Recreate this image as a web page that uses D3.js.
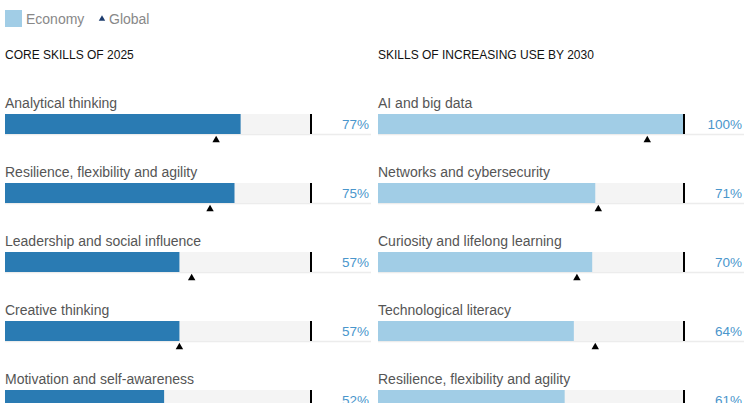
<!DOCTYPE html>
<html>
<head>
<meta charset="utf-8">
<script src="https://cdn.jsdelivr.net/npm/d3@7/dist/d3.min.js"></script>
<style>
  html, body { margin: 0; padding: 0; background: #fff; }
  svg { display: block; font-family: "Liberation Sans", Arial, Helvetica, sans-serif; }
</style>
</head>
<body>
<svg id="chart" width="747" height="403"></svg>
<script>
// Panel titles
const panelTitles = ["CORE SKILLS OF 2025", "SKILLS OF INCREASING USE BY 2030"];

// Core skills of 2025
const coreSkills = [
  "Analytical thinking",
  "Resilience, flexibility and agility",
  "Leadership and social influence",
  "Creative thinking",
  "Motivation and self-awareness"
];
const coreEconomy = [0.77, 0.75, 0.57, 0.57, 0.52];
const coreGlobal = [0.69, 0.67, 0.61, 0.57, 0.52];

// Skills of increasing use by 2030
const risingSkills = [
  "AI and big data",
  "Networks and cybersecurity",
  "Curiosity and lifelong learning",
  "Technological literacy",
  "Resilience, flexibility and agility"
];
const risingEconomy = [1.00, 0.71, 0.70, 0.64, 0.61];
const risingGlobal = [0.88, 0.72, 0.65, 0.71, 0.67];

const legendLabels = ["Economy", "Global"];

const panels = [
  { title: panelTitles[0], skills: coreSkills, economy: coreEconomy, global: coreGlobal, x0: 5, color: "#2a7bb3" },
  { title: panelTitles[1], skills: risingSkills, economy: risingEconomy, global: risingGlobal, x0: 378, color: "#a1cde6" }
];

const svg = d3.select("#chart");
const fmt = d3.format(".0%");

// Legend
const legend = svg.append("g");
legend.append("rect").attr("x", 5).attr("y", 10).attr("width", 17).attr("height", 17).attr("fill", "#a1cde6");
legend.append("text").attr("x", 26).attr("y", 24).attr("font-size", 14).attr("fill", "#888").text(legendLabels[0]);
legend.append("path")
  .attr("d", d3.symbol().type(d3.symbolTriangle).size(18)())
  .attr("transform", "translate(102,19)")
  .attr("fill", "#1d3c6e");
legend.append("text").attr("x", 109).attr("y", 24).attr("font-size", 14).attr("fill", "#888").text(legendLabels[1]);

const rowStep = 69;
const rowTop = 95;

panels.forEach(p => {
  const x = d3.scaleLinear().domain([0, 1]).range([p.x0, p.x0 + 306]);
  const y = d3.scaleBand().domain(p.skills).range([rowTop, rowTop + rowStep * p.skills.length]).paddingInner(0);
  const g = svg.append("g");

  g.append("text")
    .attr("x", p.x0).attr("y", 59)
    .attr("font-size", 12).attr("fill", "#111")
    .text(p.title);

  const rows = g.selectAll("g.row").data(p.skills).join("g")
    .attr("class", "row")
    .attr("transform", d => `translate(0,${y(d)})`);

  rows.append("text")
    .attr("x", p.x0).attr("y", 13)
    .attr("font-size", 14).attr("fill", "#555")
    .text(d => d);

  // baseline rule under each bar
  rows.append("line")
    .attr("x1", p.x0).attr("x2", p.x0 + 366)
    .attr("y1", 39.5).attr("y2", 39.5)
    .attr("stroke", "#ececec").attr("stroke-width", 1.5);

  // track
  rows.append("rect")
    .attr("x", x(0)).attr("y", 19)
    .attr("width", x(1) - x(0)).attr("height", 20)
    .attr("fill", "#f4f4f4");

  // economy bar
  rows.append("rect")
    .attr("x", x(0)).attr("y", 19)
    .attr("width", (d, i) => x(p.economy[i]) - x(0)).attr("height", 20)
    .attr("fill", p.color);

  // 100% marker
  rows.append("line")
    .attr("x1", x(1)).attr("x2", x(1))
    .attr("y1", 19).attr("y2", 39)
    .attr("stroke", "#000").attr("stroke-width", 2);

  // value label
  rows.append("text")
    .attr("x", p.x0 + 364).attr("y", 34)
    .attr("text-anchor", "end")
    .attr("font-size", 13.5).attr("fill", "#4a96cc")
    .text((d, i) => fmt(p.economy[i]));

  // global marker
  rows.append("path")
    .attr("d", d3.symbol().type(d3.symbolTriangle).size(24)())
    .attr("transform", (d, i) => `translate(${x(p.global[i])},45)`)
    .attr("fill", "#000");
});
</script>
</body>
</html>
